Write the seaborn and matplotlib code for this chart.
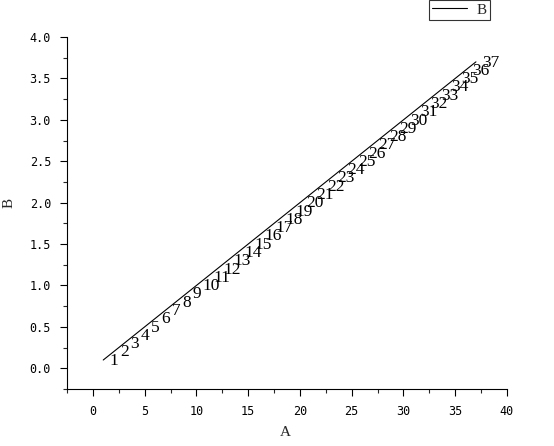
import matplotlib
matplotlib.use("Agg")
import matplotlib.pyplot as plt
import seaborn as sns
import pandas as pd
from matplotlib.ticker import MultipleLocator

A = [1, 2, 3, 4, 5, 6, 7, 8, 9, 10, 11, 12, 13, 14, 15, 16, 17, 18, 19,
     20, 21, 22, 23, 24, 25, 26, 27, 28, 29, 30, 31, 32, 33, 34, 35, 36, 37]
B = [0.1, 0.2, 0.3, 0.4, 0.5, 0.6, 0.7, 0.8, 0.9, 1.0, 1.1, 1.2, 1.3, 1.4,
     1.5, 1.6, 1.7, 1.8, 1.9, 2.0, 2.1, 2.2, 2.3, 2.4, 2.5, 2.6, 2.7, 2.8,
     2.9, 3.0, 3.1, 3.2, 3.3, 3.4, 3.5, 3.6, 3.7]
point_labels = [str(v) for v in A]
x_ticks = [0, 5, 10, 15, 20, 25, 30, 35, 40]
y_ticks = [0.0, 0.5, 1.0, 1.5, 2.0, 2.5, 3.0, 3.5, 4.0]

df = pd.DataFrame({"A": A, "B": B})

sns.set_style("ticks")
plt.rcParams["font.family"] = ["DejaVu Sans"]

fig = plt.figure(figsize=(5.54, 4.46), dpi=100)
ax = fig.add_axes([67/554, 1-389/446, (507-67)/554, (389-37)/446])

sns.lineplot(data=df, x="A", y="B", ax=ax, color="black", linewidth=0.8, label="B")

for xv, yv, t in zip(A, B, point_labels):
    ax.annotate(t, (xv, yv), xytext=(4.5, -0.5), textcoords="offset points",
                ha="left", va="center", fontsize=12.5, family="Liberation Serif",
                color="black")

ax.set_xlim(-2.5, 40)
ax.set_ylim(-0.25, 4.0)
ax.set_xticks(x_ticks)
ax.set_yticks(y_ticks)
ax.set_xticklabels([str(v) for v in x_ticks], family="DejaVu Sans Mono", fontsize=8.5)
ax.set_yticklabels([f"{v:.1f}" for v in y_ticks], family="DejaVu Sans Mono", fontsize=8.5)
ax.xaxis.set_minor_locator(MultipleLocator(2.5))
ax.yaxis.set_minor_locator(MultipleLocator(0.25))
ax.tick_params(which="major", length=5, width=0.8, direction="out", pad=6.5, colors="black")
ax.tick_params(which="minor", length=3, width=0.8, direction="out")
for s in ["top", "right"]:
    ax.spines[s].set_visible(False)
for s in ["left", "bottom"]:
    ax.spines[s].set_linewidth(0.8)
    ax.spines[s].set_color("black")

ax.set_xlabel("A", family="Liberation Serif", fontsize=11, va="center", ha="center")
ax.set_ylabel("B", family="Liberation Serif", fontsize=11, va="center", ha="center")
ax.xaxis.set_label_coords((285-67)/440, -(432-389)/352)
ax.yaxis.set_label_coords(-(67-9)/440, (389-203)/352)

leg = ax.legend(loc="upper left", bbox_to_anchor=(429/554, 1.0), bbox_transform=fig.transFigure,
                frameon=True, fancybox=False, prop={"family": "Liberation Serif", "size": 11},
                handlelength=2.3, borderaxespad=0, borderpad=0.2, handletextpad=0.6)
leg.get_frame().set_edgecolor("black")
leg.get_frame().set_linewidth(0.8)

fig.savefig("out.png", dpi=100, facecolor="white")
